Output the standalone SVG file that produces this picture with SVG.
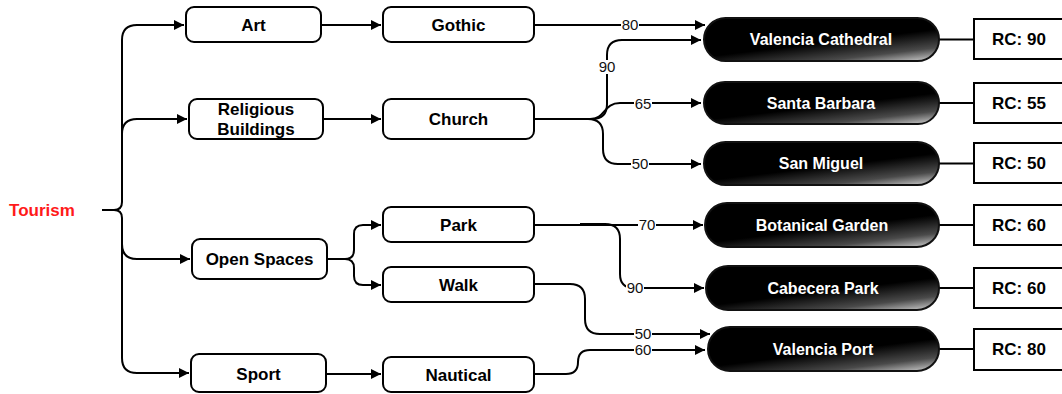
<svg xmlns="http://www.w3.org/2000/svg" width="1062" height="394" viewBox="0 0 1062 394">
<style>
.box{fill:#fff;stroke:#000;stroke-width:2}
.pill{fill:url(#pg);stroke:#111;stroke-width:2}
.rc{fill:#fff;stroke:#000;stroke-width:2}
.t{font-family:"Liberation Sans",Arial,sans-serif;font-weight:bold;font-size:17px;fill:#000;text-anchor:middle}
.pt{font-family:"Liberation Sans",Arial,sans-serif;font-weight:bold;font-size:16px;fill:#fff;text-anchor:middle}
.c{fill:none;stroke:#000;stroke-width:2}
.ca{fill:none;stroke:#000;stroke-width:2;marker-end:url(#ah)}
.lb{fill:#fff}
.lt{font-family:"Liberation Sans",Arial,sans-serif;font-size:15px;fill:#111;text-anchor:middle}
</style>
<defs>
<linearGradient id="pg" x1="0.3" y1="0" x2="0.95" y2="1">
<stop offset="0" stop-color="#000"/>
<stop offset="0.5" stop-color="#000"/>
<stop offset="0.8" stop-color="#4a4a4a"/>
<stop offset="1" stop-color="#c8c8c8"/>
</linearGradient>
<marker id="ah" viewBox="0 0 10 10" refX="10" refY="5" markerWidth="6" markerHeight="5" orient="auto" markerUnits="strokeWidth">
<path d="M0,0 L10,5 L0,10 z" fill="#000"/>
</marker>
</defs>

<g id="connectors">
<path class="ca" d="M102,210 H114 Q122,210 122,202 V40 Q122,25 137,25 H184"/>
<path class="ca" d="M114,210 Q122,210 122,218 V358 Q122,373 137,373 H189"/>
<path class="ca" d="M122,134 Q122,119 137,119 H187"/>
<path class="ca" d="M122,244 Q122,259 137,259 H190"/>
<path class="ca" d="M321,25 H381"/>
<path class="ca" d="M323,119 H381"/>
<path class="ca" d="M326,374 H381"/>
<path class="ca" d="M327,259 H345 Q354,259 354,250 V234 Q354,225 363,225 H381"/>
<path class="ca" d="M345,259 Q354,259 354,268 V276 Q354,285 363,285 H381"/>
<path class="ca" d="M534,25 H705"/>
<path class="ca" d="M534,119 H592 Q607,119 607,104 V55 Q607,40 622,40 H701"/>
<path class="ca" d="M590,119 C606,119 603,103 620,103 H701"/>
<path class="ca" d="M588,119 Q603,119 603,134 V149 Q603,164 618,164 H701"/>
<path class="ca" d="M534,225 H703"/>
<path class="ca" d="M580,224 H605 Q620,224 620,239 V274 Q620,288 634,288 H704"/>
<path class="ca" d="M534,284 H570 Q585,284 585,299 V319 Q585,334 600,334 H710"/>
<path class="ca" d="M534,374 H566 Q578,374 578,362 Q578,350 590,350 H705"/>
<path class="c" d="M939,39.5 H974 M939,103 H974 M939,163.5 H974 M939,225 H974 M939,288 H974 M939,349 H974"/>
<g>
<rect class="lb" x="621" y="18" width="18" height="14"/><text class="lt" x="630" y="30">80</text>
<rect class="lb" x="598" y="60" width="18" height="14"/><text class="lt" x="607" y="72">90</text>
<rect class="lb" x="634" y="97" width="18" height="14"/><text class="lt" x="643" y="109">65</text>
<rect class="lb" x="631" y="157" width="18" height="14"/><text class="lt" x="640" y="169">50</text>
<rect class="lb" x="638" y="218" width="18" height="14"/><text class="lt" x="647" y="230">70</text>
<rect class="lb" x="626" y="281" width="18" height="14"/><text class="lt" x="635" y="293">90</text>
<rect class="lb" x="634" y="328" width="18" height="13"/><text class="lt" x="643" y="339">50</text>
<rect class="lb" x="634" y="343" width="18" height="13"/><text class="lt" x="643" y="355">60</text>
</g>
</g>

<g id="tourism"><text x="42" y="216" style="font-family:'Liberation Sans',Arial,sans-serif;font-weight:bold;font-size:17px;fill:#ff1a1a;text-anchor:middle">Tourism</text></g>

<g id="art"><rect class="box" x="186" y="7" width="135" height="35" rx="8"/><text class="t" x="253.5" y="31">Art</text></g>
<g id="religious"><rect class="box" x="189" y="99" width="134" height="40" rx="8"/><text class="t" x="256" y="115">Religious</text><text class="t" x="256" y="135">Buildings</text></g>
<g id="openspaces"><rect class="box" x="192" y="239" width="135" height="40" rx="8"/><text class="t" x="259.5" y="265">Open Spaces</text></g>
<g id="sport"><rect class="box" x="191" y="354" width="135" height="38" rx="8"/><text class="t" x="258.5" y="380">Sport</text></g>

<g id="gothic"><rect class="box" x="383" y="7" width="151" height="35" rx="8"/><text class="t" x="458.5" y="31">Gothic</text></g>
<g id="church"><rect class="box" x="383" y="99" width="151" height="40" rx="8"/><text class="t" x="458.5" y="125">Church</text></g>
<g id="park"><rect class="box" x="383" y="207" width="151" height="35" rx="8"/><text class="t" x="458.5" y="231">Park</text></g>
<g id="walk"><rect class="box" x="383" y="267" width="151" height="35" rx="8"/><text class="t" x="458.5" y="291">Walk</text></g>
<g id="nautical"><rect class="box" x="383" y="357" width="151" height="35" rx="8"/><text class="t" x="458.5" y="381">Nautical</text></g>

<g id="valencia-cathedral"><rect class="pill" x="704" y="18" width="235" height="43" rx="21.5"/><text class="pt" x="821" y="45">Valencia Cathedral</text></g>
<g id="santa-barbara"><rect class="pill" x="704" y="82" width="235" height="42" rx="21"/><text class="pt" x="821" y="109">Santa Barbara</text></g>
<g id="san-miguel"><rect class="pill" x="704" y="142" width="235" height="43" rx="21.5"/><text class="pt" x="821" y="169">San Miguel</text></g>
<g id="botanical-garden"><rect class="pill" x="705" y="203" width="234" height="44" rx="22"/><text class="pt" x="822" y="231">Botanical Garden</text></g>
<g id="cabecera-park"><rect class="pill" x="706" y="266" width="233" height="44" rx="22"/><text class="pt" x="823" y="294">Cabecera Park</text></g>
<g id="valencia-port"><rect class="pill" x="708" y="327" width="231" height="44" rx="22"/><text class="pt" x="823" y="355">Valencia Port</text></g>

<g id="rc1"><rect class="rc" x="974" y="19" width="96" height="40"/><text class="t" x="1019" y="45">RC: 90</text></g>
<g id="rc2"><rect class="rc" x="974" y="83" width="96" height="40"/><text class="t" x="1019" y="109">RC: 55</text></g>
<g id="rc3"><rect class="rc" x="974" y="143" width="96" height="40"/><text class="t" x="1019" y="169">RC: 50</text></g>
<g id="rc4"><rect class="rc" x="974" y="205" width="96" height="40"/><text class="t" x="1019" y="231">RC: 60</text></g>
<g id="rc5"><rect class="rc" x="974" y="268" width="96" height="40"/><text class="t" x="1019" y="294">RC: 60</text></g>
<g id="rc6"><rect class="rc" x="974" y="329" width="96" height="41"/><text class="t" x="1019" y="355">RC: 80</text></g>
</svg>
